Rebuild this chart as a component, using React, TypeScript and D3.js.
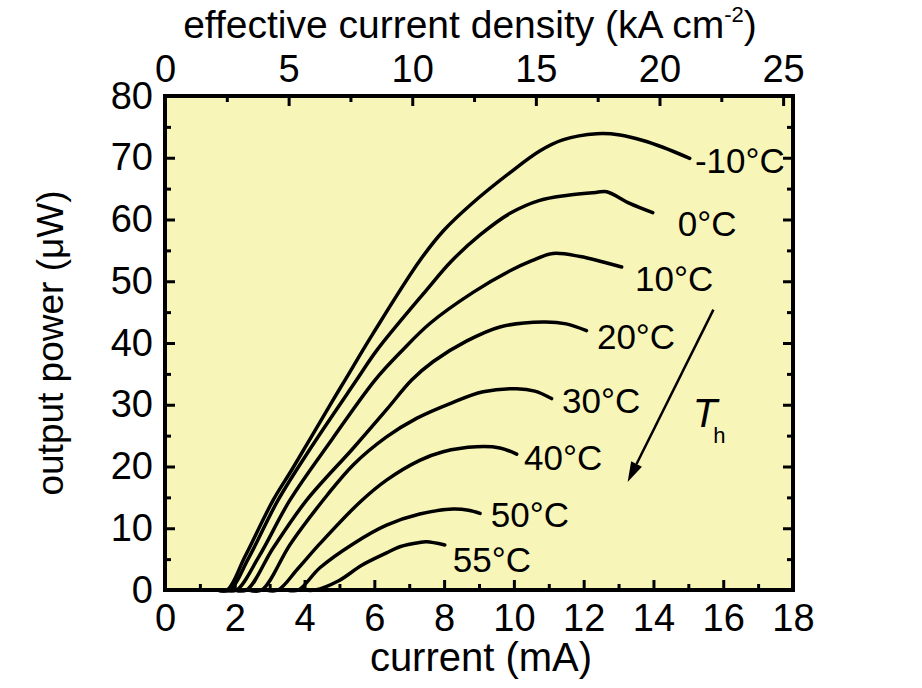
import { useEffect, useRef } from 'react';
import * as d3 from 'd3';

// L-I curves, current (mA) vs output power (µW), one per heat-sink temperature
const curveM10 = [[1.5, 0], [1.78, 0], [2.3, 5.5], [3.1, 14.55], [3.67, 19.8], [4.81, 30.7], [5.16, 34], [5.97, 41.6], [7.31, 53.4], [8.0, 58.3], [8.8, 62.6], [9.89, 67.6], [10.74, 71.1], [11.4, 72.9], [12.38, 73.9], [13.04, 73.7], [13.7, 72.8], [14.27, 71.7], [15.04, 69.9]];
const curve0 = [[1.5, 0], [1.85, 0], [2.4, 5.2], [3.24, 14.55], [4.2, 23.2], [5.49, 34], [6.07, 38.8], [7.5, 48.6], [8.2, 53.2], [9.03, 57.5], [9.89, 61.0], [10.74, 63.1], [11.5, 63.9], [12.38, 64.4], [12.66, 64.5], [13.32, 62.6], [13.98, 61.1]];
const curve10 = [[1.7, 0], [2.05, 0], [2.7, 5.5], [3.58, 14.55], [4.8, 24.5], [6.02, 34], [6.8, 38.8], [7.6, 43.2], [8.83, 48.2], [9.89, 51.7], [10.5, 53.3], [11.12, 54.5], [11.9, 54.0], [12.5, 53.2], [13.09, 52.3]];
const curve20 = [[2.0, 0], [2.34, 0], [3.1, 6.8], [4.06, 14.55], [5.4, 23.0], [6.35, 29.2], [7.07, 34], [7.69, 37.0], [8.64, 40.3], [9.6, 42.6], [10.84, 43.4], [11.5, 43.1], [12.08, 42.0]];
const curve30 = [[2.4, 0], [2.77, 0], [3.6, 7.5], [4.64, 15.3], [5.4, 20.3], [6.35, 24.8], [7.21, 27.8], [8.17, 30.2], [9.12, 32.1], [10.08, 32.6], [10.6, 32.2], [11.08, 31.0]];
const curve40 = [[2.9, 0], [3.24, 0], [3.8, 3.4], [4.44, 7.5], [5.6, 14.3], [6.35, 17.8], [7.3, 21.0], [7.97, 22.4], [8.93, 23.2], [9.6, 23.0], [10.08, 22.0]];
const curve50 = [[3.5, 0], [3.82, 0], [4.44, 3.6], [5.4, 7.5], [6.35, 10.5], [7.3, 12.3], [8.26, 13.1], [8.7, 12.9], [9.03, 12.4]];
const curve55 = [[4.0, 0], [4.3, 0], [4.98, 1.5], [5.64, 4.0], [6.35, 6.0], [6.73, 7.0], [7.3, 7.7], [7.5, 7.8], [8.02, 7.3]];

const curves = [curveM10, curve0, curve10, curve20, curve30, curve40, curve50, curve55];
const curveLabels = ['-10°C', '0°C', '10°C', '20°C', '30°C', '40°C', '50°C', '55°C'];
// label anchor (current, power) for each curve's text
const labelAt = [[15.19, 67.6], [14.7, 57.4], [13.47, 48.5], [12.38, 39.1], [11.38, 28.6], [10.29, 19.4], [9.34, 10.2], [8.25, 2.9]];

const xTicks = [0, 2, 4, 6, 8, 10, 12, 14, 16, 18];
const yTicks = [0, 10, 20, 30, 40, 50, 60, 70, 80];
const topTicks = [0, 5, 10, 15, 20, 25];

// T_h arrow: from / to in (current, power)
const arrowFrom = [15.72, 45.4];
const arrowTo = [13.26, 17.5];
const thAt = [15.13, 26.4];

export default function App() {
  const svgRef = useRef<SVGSVGElement>(null);

  useEffect(() => {
    const el = svgRef.current;
    if (!el) return;
    d3.select(el).selectAll('*').remove();

    const W = 922;
    const H = 688;
    const margin = { top: 96, right: 129, bottom: 98, left: 165 };
    const w = W - margin.left - margin.right;
    const h = H - margin.top - margin.bottom;
    const font = 'Arial, "Liberation Sans", Helvetica, sans-serif';

    const svg = d3.select(el).attr('width', W).attr('height', H);
    svg.append('rect').attr('width', W).attr('height', H).attr('fill', '#fff');

    const g = svg.append('g').attr('transform', `translate(${margin.left},${margin.top})`);

    const x = d3.scaleLinear().domain([0, 18]).range([0, w]);
    const xTop = d3.scaleLinear().domain([0, 25.4]).range([0, w]);
    const y = d3.scaleLinear().domain([0, 80]).range([h, 0]);

    g.append('rect').attr('width', w).attr('height', h).attr('fill', '#f8f5b9');

    // ticks (inward) on all four sides
    const styleAxis = (sel: any) => {
      sel.select('.domain').remove();
      sel.selectAll('line').attr('stroke', '#000').attr('stroke-width', 3);
      sel.selectAll('text').style('font-family', font).style('font-size', '38px').attr('fill', '#000');
    };

    const bottomMinor = d3.range(1, 18, 2);
    g.append('g').attr('transform', `translate(0,${h})`)
      .call(d3.axisBottom(x).tickValues(bottomMinor).tickSize(-6).tickFormat(() => ''))
      .call(styleAxis);
    g.append('g').attr('transform', `translate(0,${h})`)
      .call(d3.axisBottom(x).tickValues(xTicks).tickSize(-10).tickPadding(14).tickFormat(d3.format('d')))
      .call(styleAxis)
      .selectAll('text').attr('dy', '0.71em');

    const topMinor = d3.range(2.5, 25, 5);
    g.append('g')
      .call(d3.axisTop(xTop).tickValues(topMinor).tickSize(-6).tickFormat(() => ''))
      .call(styleAxis);
    g.append('g')
      .call(d3.axisTop(xTop).tickValues(topTicks).tickSize(-10).tickPadding(14).tickFormat(d3.format('d')))
      .call(styleAxis);

    const yMinor = d3.range(5, 80, 10);
    g.append('g')
      .call(d3.axisLeft(y).tickValues(yMinor).tickSize(-6).tickFormat(() => ''))
      .call(styleAxis);
    g.append('g')
      .call(d3.axisLeft(y).tickValues(yTicks).tickSize(-10).tickPadding(12).tickFormat(d3.format('d')))
      .call(styleAxis);

    g.append('g').attr('transform', `translate(${w},0)`)
      .call(d3.axisRight(y).tickValues(yMinor).tickSize(-6).tickFormat(() => ''))
      .call(styleAxis);
    g.append('g').attr('transform', `translate(${w},0)`)
      .call(d3.axisRight(y).tickValues(yTicks).tickSize(-10).tickFormat(() => ''))
      .call(styleAxis);

    // curves
    const line = d3.line<number[]>()
      .x(d => x(d[0]))
      .y(d => y(d[1]))
      .curve(d3.curveCatmullRom.alpha(0.5));

    curves.forEach(c => {
      g.append('path')
        .datum(c)
        .attr('fill', 'none')
        .attr('stroke', '#000')
        .attr('stroke-width', 3.5)
        .attr('stroke-linejoin', 'round')
        .attr('stroke-linecap', 'round')
        .attr('d', line);
    });

    // frame
    g.append('rect')
      .attr('width', w).attr('height', h)
      .attr('fill', 'none').attr('stroke', '#000').attr('stroke-width', 4);

    curveLabels.forEach((t, i) => {
      g.append('text')
        .attr('x', x(labelAt[i][0]))
        .attr('y', y(labelAt[i][1]))
        .style('font-family', font)
        .style('font-size', '35px')
        .attr('fill', '#000')
        .text(t);
    });

    // T_h arrow
    const ax1 = x(arrowFrom[0]), ay1 = y(arrowFrom[1]);
    const ax2 = x(arrowTo[0]), ay2 = y(arrowTo[1]);
    const ang = Math.atan2(ay2 - ay1, ax2 - ax1);
    const headLen = 20, headW = 6;
    const bx = ax2 - headLen * Math.cos(ang), by = ay2 - headLen * Math.sin(ang);
    g.append('line')
      .attr('x1', ax1).attr('y1', ay1).attr('x2', bx).attr('y2', by)
      .attr('stroke', '#000').attr('stroke-width', 2.5);
    g.append('path')
      .attr('d', d3.line()([
        [ax2, ay2],
        [bx + headW * Math.sin(ang), by - headW * Math.cos(ang)],
        [bx - headW * Math.sin(ang), by + headW * Math.cos(ang)],
      ]) + 'Z')
      .attr('fill', '#000');

    const th = g.append('text')
      .attr('x', x(thAt[0]))
      .attr('y', y(thAt[1]))
      .style('font-family', font)
      .style('font-size', '40px')
      .attr('fill', '#000');
    th.append('tspan').style('font-style', 'italic').text('T');
    th.append('tspan').attr('dx', -4).attr('dy', 16).style('font-size', '22px').text('h');

    // axis titles
    svg.append('text')
      .attr('x', margin.left + w / 2 + 2)
      .attr('y', H - 17)
      .attr('text-anchor', 'middle')
      .style('font-family', font)
      .style('font-size', '40px')
      .text('current (mA)');

    svg.append('text')
      .attr('transform', `translate(63,${margin.top + h / 2}) rotate(-90)`)
      .attr('text-anchor', 'middle')
      .style('font-family', font)
      .style('font-size', '37px')
      .text('output power (μW)');

    const topTitle = svg.append('text')
      .attr('x', margin.left + w / 2 - 9)
      .attr('y', 38)
      .attr('text-anchor', 'middle')
      .style('font-family', font)
      .style('font-size', '39px');
    topTitle.append('tspan').text('effective current density (kA cm');
    topTitle.append('tspan').attr('dy', -16).style('font-size', '22px').text('-2');
    topTitle.append('tspan').attr('dy', 16).text(')');
  }, []);

  return (
    <svg ref={svgRef} style={{ position: 'absolute', left: 0, top: 0, display: 'block' }} />
  );
}
